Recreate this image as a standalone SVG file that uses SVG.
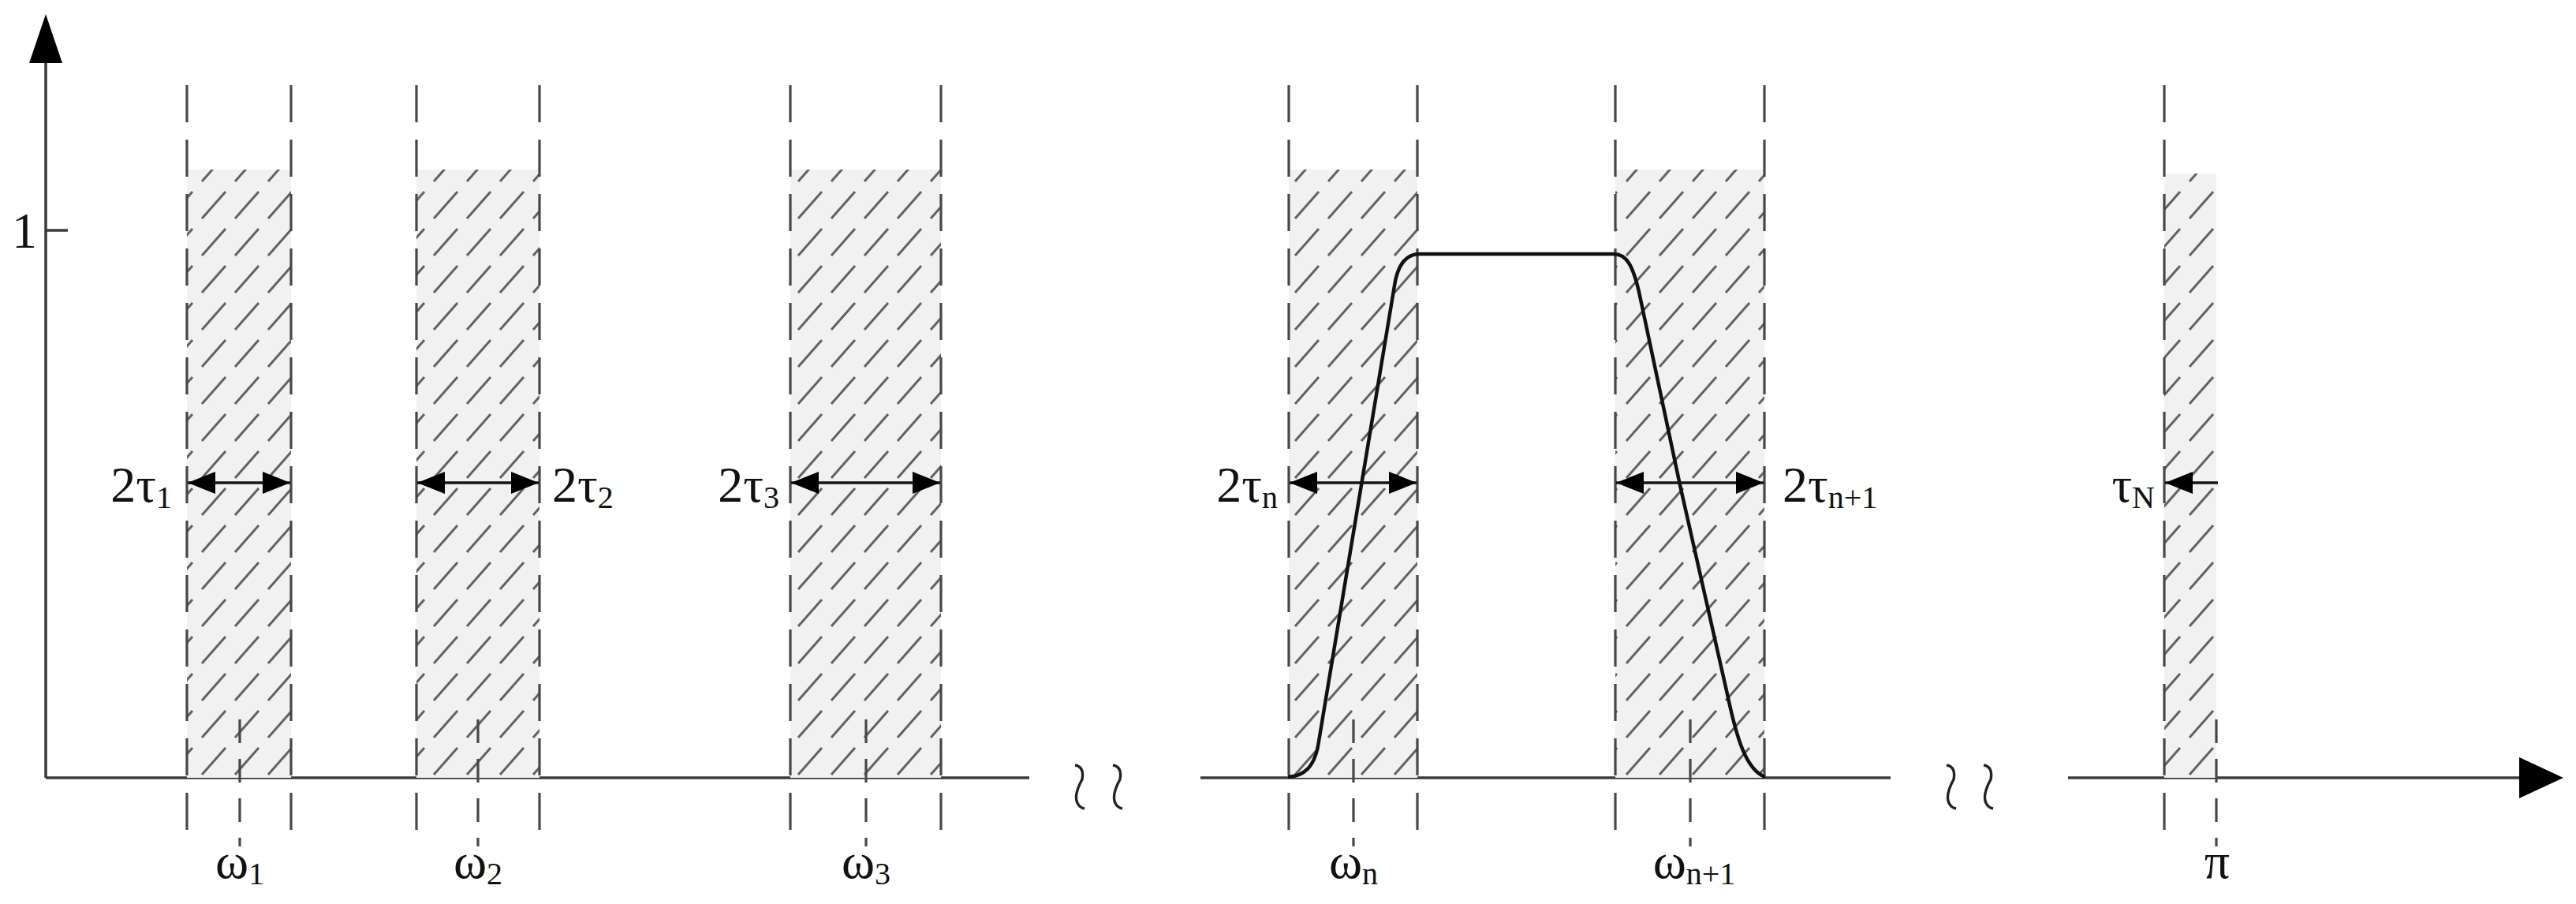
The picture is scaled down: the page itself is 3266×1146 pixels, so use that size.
<svg xmlns="http://www.w3.org/2000/svg" width="3266" height="1146" viewBox="0 0 3266 1146">
<defs>
<style>
.axis{stroke:#3a3a3a;stroke-width:3.5;fill:none}
.edge{stroke:#474747;stroke-width:3.2;stroke-dasharray:47 22;fill:none}
.tick{stroke:#474747;stroke-width:3.2;stroke-dasharray:30 20;fill:none}
.dim{stroke:#151515;stroke-width:3.4;fill:none;marker-start:url(#ah);marker-end:url(#ah)}
.curve{stroke:#111;stroke-width:4.5;fill:none;stroke-linejoin:round}
.tilde{stroke:#222;stroke-width:3.4;fill:none}
.band{fill:url(#hatch)}
text{font-family:"Liberation Serif","Times New Roman",serif;font-size:64px;fill:#111}
.sub{font-size:40px}
</style>
<pattern id="hatch" patternUnits="userSpaceOnUse" width="42" height="47">
<rect width="42" height="47" fill="#f1f1f1"/>
<line x1="4" y1="42" x2="34" y2="8" stroke="#626262" stroke-width="3"/>
</pattern>
<marker id="ah" markerUnits="userSpaceOnUse" markerWidth="36" markerHeight="30" viewBox="0 0 36 30" refX="35" refY="15" orient="auto-start-reverse">
<path d="M0,1 L35,15 L0,29 z" fill="#000"/>
</marker>
</defs>

<g id="axes">
<line class="axis" x1="58" y1="986" x2="58" y2="78"/>
<path d="M58,18 L37,80 L79,80 z" fill="#000"/>
<line class="axis" x1="58" y1="292" x2="86" y2="292"/>
<text x="31" y="314" text-anchor="middle">1</text>
<line class="axis" x1="58" y1="986" x2="1305" y2="986"/>
<line class="axis" x1="1522" y1="986" x2="2397" y2="986"/>
<line class="axis" x1="2622" y1="986" x2="3197" y2="986"/>
<path d="M3250,986 L3194,960 L3194,1012 z" fill="#000"/>
<path class="tilde" d="M1363,970 Q1375,972 1372,988 Q1361,1008 1366,1018 Q1369,1024 1375,1025"/>
<path class="tilde" d="M1411,970 Q1423,972 1420,988 Q1409,1008 1414,1018 Q1417,1024 1423,1025"/>
<path class="tilde" d="M2468,970 Q2480,972 2477,988 Q2466,1008 2471,1018 Q2474,1024 2480,1025"/>
<path class="tilde" d="M2515,970 Q2527,972 2524,988 Q2513,1008 2518,1018 Q2521,1024 2527,1025"/>
</g>

<g id="band1">
<rect class="band" x="237" y="215" width="132" height="771"/>
<line class="edge" x1="237" y1="108" x2="237" y2="1052"/>
<line class="edge" x1="369" y1="108" x2="369" y2="1052"/>
<line class="tick" x1="304" y1="912" x2="304" y2="1073"/>
<line class="dim" x1="238" y1="612" x2="368" y2="612"/>
<text x="218" y="636" text-anchor="end">2τ<tspan class="sub" dy="8">1</tspan></text>
<text x="304" y="1113" text-anchor="middle">ω<tspan class="sub" dy="8">1</tspan></text>
</g>

<g id="band2">
<rect class="band" x="528" y="215" width="156" height="771"/>
<line class="edge" x1="528" y1="108" x2="528" y2="1052"/>
<line class="edge" x1="684" y1="108" x2="684" y2="1052"/>
<line class="tick" x1="606" y1="912" x2="606" y2="1073"/>
<line class="dim" x1="529" y1="612" x2="683" y2="612"/>
<text x="700" y="636">2τ<tspan class="sub" dy="8">2</tspan></text>
<text x="606" y="1113" text-anchor="middle">ω<tspan class="sub" dy="8">2</tspan></text>
</g>

<g id="band3">
<rect class="band" x="1002" y="215" width="191" height="771"/>
<line class="edge" x1="1002" y1="108" x2="1002" y2="1052"/>
<line class="edge" x1="1193" y1="108" x2="1193" y2="1052"/>
<line class="tick" x1="1098" y1="912" x2="1098" y2="1073"/>
<line class="dim" x1="1003" y1="612" x2="1192" y2="612"/>
<text x="988" y="636" text-anchor="end">2τ<tspan class="sub" dy="8">3</tspan></text>
<text x="1098" y="1113" text-anchor="middle">ω<tspan class="sub" dy="8">3</tspan></text>
</g>

<g id="bandn">
<rect class="band" x="1634" y="215" width="163" height="771"/>
<line class="edge" x1="1634" y1="108" x2="1634" y2="1052"/>
<line class="edge" x1="1797" y1="108" x2="1797" y2="1052"/>
<line class="tick" x1="1716" y1="912" x2="1716" y2="1073"/>
<line class="dim" x1="1635" y1="612" x2="1796" y2="612"/>
<text x="1620" y="636" text-anchor="end">2τ<tspan class="sub" dy="8">n</tspan></text>
<text x="1716" y="1113" text-anchor="middle">ω<tspan class="sub" dy="8">n</tspan></text>
</g>

<g id="bandn1">
<rect class="band" x="2048" y="215" width="189" height="771"/>
<line class="edge" x1="2048" y1="108" x2="2048" y2="1052"/>
<line class="edge" x1="2237" y1="108" x2="2237" y2="1052"/>
<line class="tick" x1="2143" y1="912" x2="2143" y2="1073"/>
<line class="dim" x1="2049" y1="612" x2="2236" y2="612"/>
<text x="2260" y="636">2τ<tspan class="sub" dy="8">n+1</tspan></text>
<text x="2148" y="1113" text-anchor="middle">ω<tspan class="sub" dy="8">n+1</tspan></text>
</g>

<g id="bandN">
<rect class="band" x="2744" y="220" width="66" height="766"/>
<line class="edge" x1="2744" y1="108" x2="2744" y2="1052"/>
<line class="tick" x1="2810" y1="912" x2="2810" y2="1073"/>
<line stroke="#151515" stroke-width="3.4" x1="2812" y1="612" x2="2745" y2="612" marker-end="url(#ah)"/>
<text x="2732" y="636" text-anchor="end">τ<tspan class="sub" dy="8">N</tspan></text>
<text x="2811" y="1113" text-anchor="middle">π</text>
</g>

<g id="connectors">
<path class="curve" d="M1633,985 C1652,984 1667,974 1672,940 L1768,362 C1772,336 1782,322 1800,322 L2046,322 C2062,322 2070,336 2078,370 L2130,615 L2190,880 C2201,932 2213,976 2238,985"/>
</g>
</svg>
